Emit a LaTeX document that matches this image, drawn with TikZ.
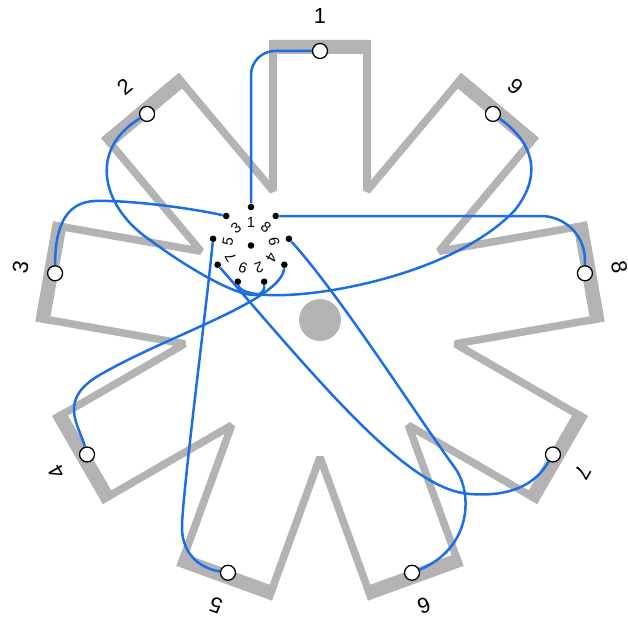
\documentclass[tikz,border=0pt]{standalone}
\usepackage{fontspec}
\setmainfont{Liberation Sans}
\usetikzlibrary{calc}
\definecolor{stgray}{RGB}{179,179,179}
\definecolor{stblue}{RGB}{28,110,230}
\tikzset{
  stoutline/.style={draw=stgray, line width=0.19cm, line join=miter, miter limit=2},
  stbar/.style={draw=stgray, line width=0.35cm},
  stwire/.style={draw=stblue, line width=0.0625cm},
  stpin/.style={circle, draw=black, fill=white, line width=0.032cm,
    minimum size=0.375cm, inner sep=0pt},
  stdot/.style={circle, fill=black, minimum size=0.165cm, inner sep=0pt},
  sthub/.style={circle, fill=stgray, minimum size=1.05cm, inner sep=0pt},
  stnum/.style={font=\fontsize{15.5}{18}\selectfont, inner sep=0pt},
  stsmall/.style={font=\fontsize{10.5}{12}\selectfont, inner sep=0pt}
}

\begin{document}
\begin{tikzpicture}[x=0.025cm,y=0.025cm]
\path[use as bounding box] (-320,-302) rectangle (308,320);

% Star outline: nine teeth, thick outer edges.
\draw[stoutline] (80.343:280.2)
  \foreach \k in {0,...,7}{
    -- ({99.657+40*\k}:280.2) -- ({110+40*\k}:137.4) -- ({120.343+40*\k}:280.2)
  } -- (419.657:280.2) -- (430:137.4) -- cycle;
\foreach \k in {0,...,8}
  \draw[stbar,rotate=40*\k] (-50.8,273) -- (50.8,273);

\node[sthub] (hub) at (0,0) {};

% Outer pins and tooth numbers.
\foreach \n in {1,...,9}{
  \pgfmathsetmacro{\ang}{50+40*\n}
  \node[stpin] (o\n) at (\ang:269) {};
  \node[stnum,rotate=\ang-90] (t\n) at (\ang:304) {\n};
}

% Inner ring of contacts.
\begin{scope}[shift={(-69,74.5)}]
  \node[stdot] (c0) at (0,0) {};
  \foreach \a/\l in {90/1,50/8,10/6,-30/4,-70/2,-110/9,-150/7,-190/5,-230/3}{
    \node[stdot] (d\l) at (\a:38.5) {};
    \node[stsmall,rotate=\a-90] (s\l) at (\a:23.5) {\l};
  }
\end{scope}

% Wires from each contact to its pin.
\draw[stwire,rounded corners=0.6cm] (d1) |- (o1);
\draw[stwire,rounded corners=1.1cm] (d8) -| (o8);
\draw[stwire] (d3) .. controls (-130,112) and (-190,120) .. (-225,119)
  .. controls (-250,118) and (-265,100) .. (o3);
\draw[stwire] (d5) .. controls (-115,0) and (-136,-160) .. (-138,-205)
  .. controls (-139,-232) and (-122,-248) .. (o5);
\draw[stwire] (d4) .. controls (-38,20) and (-150,-15) .. (-215,-52)
  .. controls (-265,-78) and (-241,-104.5) .. (o4);
\draw[stwire] (d2) .. controls (-55,5) and (-130,50) .. (-170,80)
  .. controls (-215,110) and (-235,168) .. (o2);
\draw[stwire] (d9) .. controls (-78,10) and (120,30) .. (195,110)
  .. controls (225,148) and (210,180) .. (o9);
\draw[stwire] (d6) .. controls (18.9,26.2) and (95,-93) .. (135,-148)
  .. controls (153,-173) and (152,-228) .. (o6);
\draw[stwire] (d7) .. controls (10,-75) and (90,-170) .. (150,-174)
  .. controls (190,-177) and (215,-165) .. (o7);
\end{tikzpicture}
\end{document}
